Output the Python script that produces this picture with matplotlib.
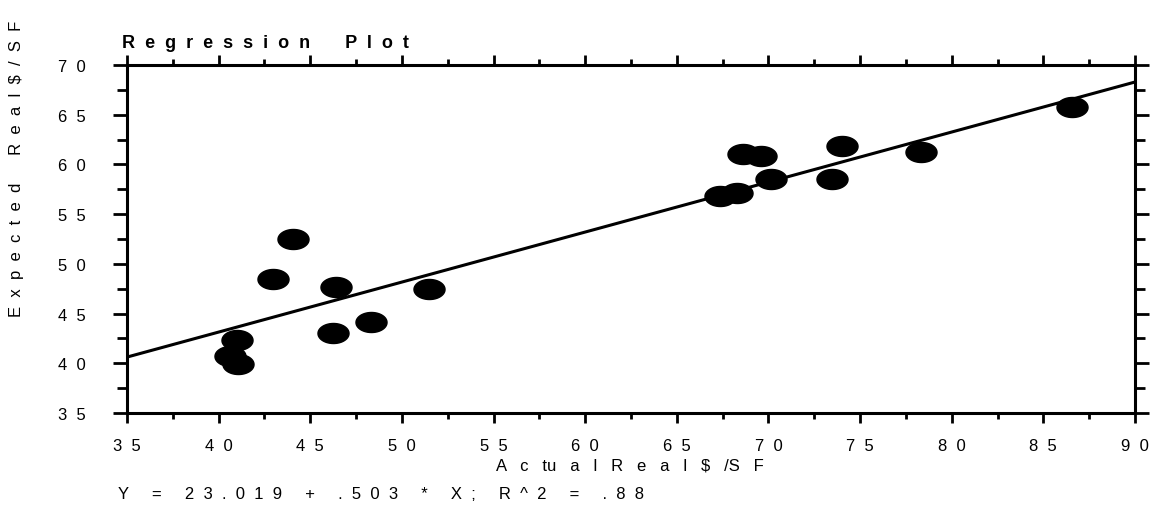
import numpy as np
import matplotlib
matplotlib.use("Agg")
import matplotlib.pyplot as plt
from matplotlib.path import Path
from matplotlib.ticker import MultipleLocator

plt.rcParams['font.family'] = ['Liberation Sans', 'DejaVu Sans']

# 实际值 / 预期值
actual = [44.07, 42.95, 46.4, 51.49, 48.3, 46.25, 41.02, 40.62, 41.07,
          86.57, 68.62, 69.62, 74.04, 78.3, 70.16, 73.48, 67.35, 68.26]
expected = [52.5, 48.48, 47.65, 47.47, 44.12, 43.0, 42.34, 40.77, 39.93,
            65.75, 61.06, 60.89, 61.89, 61.23, 58.54, 58.54, 56.86, 57.13]

# 回归系数
intercept = 23.019
slope = 0.503

xticks = [35, 40, 45, 50, 55, 60, 65, 70, 75, 80, 85, 90]
yticks = [35, 40, 45, 50, 55, 60, 65, 70]


def spaced(s, gap="  "):
    # 字母之间加空格, 模仿原图的宽字距
    return gap.join(s)


fig = plt.figure(figsize=(11.51, 5.06), dpi=100)
ax = fig.add_axes([127 / 1151, 1 - 414 / 506, (1135 - 127) / 1151, (414 - 66) / 506])

# 椭圆形标记
t = np.linspace(0, 2 * np.pi, 60)
ell = Path(np.column_stack([1.55 * np.cos(t), np.sin(t)]), closed=True)
ax.scatter(actual, expected, marker=ell, s=500, color='black', zorder=3)

# 回归线
xl = np.array([35, 90])
ax.plot(xl, intercept + slope * xl, color='black', lw=2.2, zorder=2)

ax.set_xlim(35, 90)
ax.set_ylim(35, 70)
ax.set_xticks(xticks)
ax.set_xticklabels([spaced(str(v)) for v in xticks], fontsize=12)
ax.set_yticks(yticks)
ax.set_yticklabels([spaced(str(v)) for v in yticks], fontsize=12)
ax.xaxis.set_minor_locator(MultipleLocator(2.5))
ax.yaxis.set_minor_locator(MultipleLocator(2.5))

for s in ax.spines.values():
    s.set_linewidth(2.2)
ax.tick_params(axis='both', which='both', direction='out', top=True, right=True,
               width=2, colors='black')
ax.tick_params(axis='x', which='major', length=7, pad=11)
ax.tick_params(axis='x', which='minor', length=4)
ax.tick_params(axis='y', which='major', length=10, pad=20)
ax.tick_params(axis='y', which='minor', length=7)

fig.text(122 / 1151, 1 - 44 / 506, spaced("Regression") + "       " + spaced("Plot"),
         fontsize=13, fontweight='bold', va='center', ha='left')
fig.text(17 / 1151, 1 - 169 / 506, spaced("Expected") + "      " + spaced("Real$/SF"),
         fontsize=12, rotation=90, va='center', ha='center')
fig.text(630 / 1151, 1 - 466 / 506,
         "A   c   tu   a   l   R   e   a   l   $   /S   F",
         fontsize=12, va='center', ha='center')
fig.text(118 / 1151, 1 - 495 / 506,
         "     ".join(spaced(tok) for tok in ["Y", "=", "23.019", "+", ".503", "*", "X;", "R^2", "=", ".88"]),
         fontsize=12, va='center', ha='left')

fig.savefig("out.png", dpi=100)
